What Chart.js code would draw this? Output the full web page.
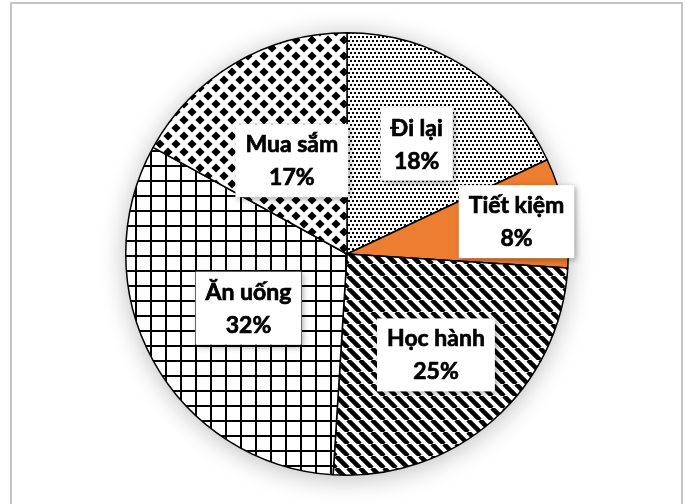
<!DOCTYPE html>
<html>
<head>
<meta charset="utf-8">
<script src="https://cdn.jsdelivr.net/npm/chart.js@4/dist/chart.umd.min.js"></script>
<style>
  html, body { margin: 0; padding: 0; background: #fff; }
  #wrap { position: relative; width: 688px; height: 504px; overflow: hidden; }
  #frame { position: absolute; left: 10px; top: 2px; width: 669px; height: 520px; border: 2px solid #c4c4c4; }
  #pieChart { position: absolute; left: 0; top: 0; }
</style>
</head>
<body>
<div id="wrap">
  <div id="frame"></div>
  <canvas id="pieChart" width="688" height="504"></canvas>
</div>
<script>
const categories = ["Đi lại", "Tiết kiệm", "Học hành", "Ăn uống", "Mua sắm"];
const shares = [18, 8, 25, 32, 17];

// how far out along each slice's middle the label box sits (fraction of radius)
const labelRadius = [0.588, 0.78, 0.608, 0.508, 0.49];

function makeTile(w, h, draw) {
    const c = document.createElement("canvas");
    c.width = w;
    c.height = h;
    const g = c.getContext("2d");
    g.fillStyle = "#fff";
    g.fillRect(0, 0, w, h);
    g.fillStyle = "#000";
    g.strokeStyle = "#000";
    draw(g, w, h);
    return document.createElement("canvas").getContext("2d").createPattern(c, "repeat");
}

// fine dots
const dots = makeTile(8, 8, (g) => {
    g.fillRect(0, 0, 2, 2);
    g.fillRect(4, 0, 2, 2);
    g.fillRect(2, 4, 2, 2);
    g.fillRect(6, 4, 2, 2);
});

// wide downward diagonal
const stripes = makeTile(12, 12, (g, w, h) => {
    g.lineWidth = 4.5;
    for (let k = -1; k <= 1; k++) {
        g.beginPath();
        g.moveTo(k * w, 0);
        g.lineTo(k * w + w, h);
        g.stroke();
    }
});

// square grid
const grid = makeTile(15, 15, (g) => {
    g.fillRect(0, 0, 15, 2);
    g.fillRect(0, 0, 2, 15);
});

// diamond lattice
const diamonds = makeTile(16, 16, (g, w, h) => {
    const a = 4.6;
    const pts = [[0, 0], [w, 0], [0, h], [w, h], [w / 2, h / 2]];
    pts.forEach(([x, y]) => {
        g.beginPath();
        g.moveTo(x, y - a);
        g.lineTo(x + a, y);
        g.lineTo(x, y + a);
        g.lineTo(x - a, y);
        g.closePath();
        g.fill();
    });
});

const fills = [dots, "#ED7D31", stripes, grid, diamonds];

const pieShadow = {
    id: "pieShadow",
    beforeDatasetsDraw(chart) {
        const arc = chart.getDatasetMeta(0).data[0];
        if (!arc) return;
        const ctx = chart.ctx;
        ctx.save();
        ctx.shadowColor = "rgba(0,0,0,0.28)";
        ctx.shadowBlur = 26;
        ctx.shadowOffsetY = 3;
        ctx.fillStyle = "#fff";
        ctx.beginPath();
        ctx.arc(arc.x, arc.y, arc.outerRadius, 0, Math.PI * 2);
        ctx.fill();
        ctx.restore();
    }
};

const boxLabels = {
    id: "boxLabels",
    afterDatasetsDraw(chart) {
        const ctx = chart.ctx;
        const meta = chart.getDatasetMeta(0);
        ctx.save();
        ctx.font = "bold 23px Lato";
        ctx.textAlign = "center";
        ctx.textBaseline = "middle";
        meta.data.forEach((arc, i) => {
            const mid = (arc.startAngle + arc.endAngle) / 2;
            const r = arc.outerRadius * labelRadius[i];
            const cx = arc.x + Math.cos(mid) * r;
            const cy = arc.y + Math.sin(mid) * r;
            const lines = [categories[i], shares[i] + "%"];
            const tw = Math.max(...lines.map((t) => ctx.measureText(t).width));
            const bw = tw + 20;
            const bh = 73;
            ctx.save();
            ctx.shadowColor = "rgba(0,0,0,0.35)";
            ctx.shadowBlur = 6;
            ctx.shadowOffsetX = 2;
            ctx.shadowOffsetY = 2;
            ctx.fillStyle = "#fff";
            ctx.fillRect(cx - bw / 2, cy - bh / 2, bw, bh);
            ctx.restore();
            // a thin outline makes the bold face a touch heavier
            ctx.fillStyle = "#000";
            ctx.strokeStyle = "#000";
            ctx.lineWidth = 0.7;
            ctx.fillText(lines[0], cx, cy - 16);
            ctx.strokeText(lines[0], cx, cy - 16);
            ctx.fillText(lines[1], cx, cy + 17);
            ctx.strokeText(lines[1], cx, cy + 17);
        });
        ctx.restore();
    }
};

new Chart("pieChart", {
    type: "pie",
    data: {
        labels: categories,
        datasets: [{
            data: shares,
            backgroundColor: fills,
            borderColor: "#000",
            borderWidth: 1.5
        }]
    },
    options: {
        responsive: false,
        animation: false,
        layout: { padding: { left: 125, right: 119, top: 32, bottom: 28 } },
        plugins: {
            legend: { display: false },
            tooltip: { enabled: false }
        }
    },
    plugins: [pieShadow, boxLabels]
});
</script>
</body>
</html>
